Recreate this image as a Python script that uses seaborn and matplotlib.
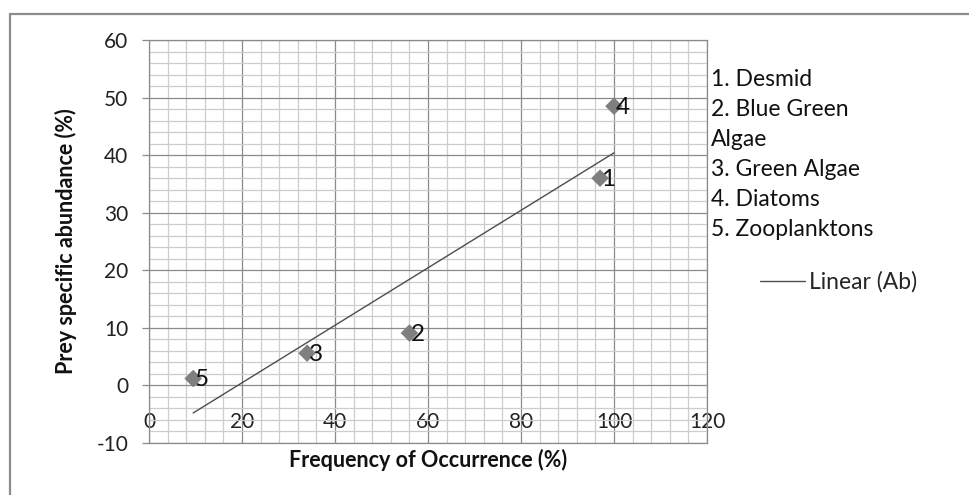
import matplotlib
matplotlib.use("Agg")
import matplotlib.pyplot as plt
import matplotlib.patches as patches
from matplotlib.ticker import MultipleLocator
import numpy as np
import pandas as pd
import seaborn as sns

# Data
prey_ids = ["1", "2", "3", "4", "5"]
frequency = [97, 56, 34, 100, 9.5]        # Frequency of Occurrence (%)
abundance = [36, 9.1, 5.6, 48.5, 1.2]     # Prey specific abundance (%)
legend_lines = ["1. Desmid", "2. Blue Green", "Algae", "3. Green Algae",
                "4. Diatoms", "5. Zooplanktons"]
x_ticks = [0, 20, 40, 60, 80, 100, 120]
y_ticks = [-10, 0, 10, 20, 30, 40, 50, 60]

df = pd.DataFrame({"id": prey_ids, "freq": frequency, "ab": abundance})

# Linear trend line (Excel style: spans the data range)
slope, intercept = np.polyfit(df["freq"], df["ab"], 1)
trend = pd.DataFrame({"x": [df["freq"].min(), df["freq"].max()]})
trend["y"] = slope * trend["x"] + intercept

sns.set_style("white")
plt.rcParams["font.family"] = ["Lato", "DejaVu Sans"]

W, H = 970, 495
fig = plt.figure(figsize=(W / 100, H / 100), dpi=100)
ax = fig.add_axes([149 / W, 1 - 443 / H, (707 - 149) / W, (443 - 40) / H])

# grid
ax.set_xlim(0, 120)
ax.set_ylim(-10, 60)
ax.xaxis.set_major_locator(MultipleLocator(20))
ax.xaxis.set_minor_locator(MultipleLocator(4))
ax.yaxis.set_major_locator(MultipleLocator(10))
ax.yaxis.set_minor_locator(MultipleLocator(2))
ax.grid(which="minor", color="#cdcdcd", linewidth=0.9)
ax.grid(which="major", color="#8a8a8a", linewidth=0.9)
ax.set_axisbelow(True)
for s in ax.spines.values():
    s.set_color("#8a8a8a")
    s.set_linewidth(0.9)

sns.lineplot(data=trend, x="x", y="y", ax=ax, color="#4d4d4d", linewidth=1.0,
             label="Linear (Ab)", legend=False)
sns.scatterplot(data=df, x="freq", y="ab", ax=ax, marker="D", s=80,
                color="#7f7f7f", edgecolor="none", zorder=3, legend=False)

for _, r in df.iterrows():
    ax.annotate(r["id"], (r["freq"], r["ab"]), xytext=(1, -1),
                textcoords="offset points", ha="left", va="center",
                fontsize=17.5, color="#111111")

ax.set_xticks(x_ticks)
ax.set_yticks(y_ticks)
ax.set_xticklabels([str(v) for v in x_ticks])
ax.set_yticklabels([str(v) for v in y_ticks])
ax.tick_params(axis="x", which="both", length=0, pad=-22, labelsize=15,
               labelcolor="#222222")
ax.tick_params(axis="y", which="major", length=5, width=0.9, color="#8a8a8a",
               pad=10, labelsize=15, labelcolor="#222222", left=True)
ax.tick_params(axis="y", which="minor", length=0)

ax.set_xlabel("Frequency of Occurrence (%)", fontsize=15.5, fontweight="bold",
              labelpad=4, color="#111111")
ax.set_ylabel("Prey specific abundance (%)", fontsize=15.5, fontweight="bold",
              labelpad=14, color="#111111")

# legend text list
for i, line in enumerate(legend_lines):
    fig.text(711 / W, 1 - (80 + 30 * i) / H, line, fontsize=16.5,
             ha="left", va="center", color="#111111")

fig.legend(handles=ax.get_lines()[:1], labels=["Linear (Ab)"],
           loc="center left", bbox_to_anchor=(760 / W, 1 - 282 / H),
           frameon=False, fontsize=16.5, handlelength=1.95,
           handletextpad=0.2, borderpad=0, borderaxespad=0)

# outer chart border (cropped on right and bottom)
fig.patches.append(patches.Rectangle((10 / W, -0.1), 1.2, 0.1 + 1 - 14 / H,
                                     transform=fig.transFigure, fill=False,
                                     edgecolor="#8c8c8c", linewidth=1.6))

fig.savefig("out.png", dpi=100)
